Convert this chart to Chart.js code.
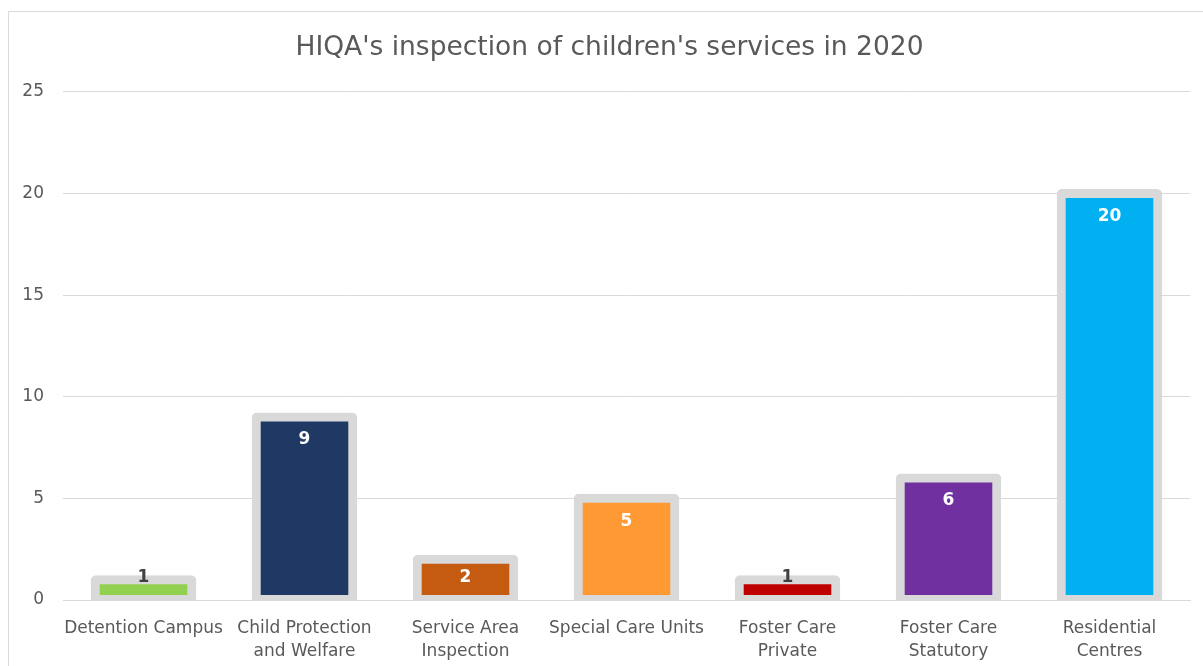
<!DOCTYPE html>
<html>
<head>
<meta charset="utf-8">
<script src="https://cdn.jsdelivr.net/npm/chart.js@4.4.0/dist/chart.umd.min.js"></script>
<style>
  html, body { margin: 0; padding: 0; background: #fff; }
  #frame { position: absolute; left: 8px; top: 11px; width: 1300px; height: 700px; border: 1px solid #d9d9d9; }
  #wrap { position: absolute; left: 0; top: 0; width: 1203px; height: 666px; }
</style>
</head>
<body>
<div id="frame"></div>
<div id="wrap"><canvas id="myChart"></canvas></div>
<script>
var categories = [
    "Detention Campus",
    ["Child Protection", "and Welfare"],
    ["Service Area", "Inspection"],
    "Special Care Units",
    ["Foster Care", "Private"],
    ["Foster Care", "Statutory"],
    ["Residential", "Centres"]
]
var counts = [1, 9, 2, 5, 1, 6, 20]
var barColors = ["#92d050", "#1f3864", "#c55a11", "#ff9933", "#c00000", "#7030a0", "#00b0f0"]
var yTicks = [0, 5, 10, 15, 20, 25]

var fontName = "DejaVu Sans"

// draws the number inside the top of each bar, like Excel's "inside end"
const valueLabels = {
    id: "valueLabels",
    afterDatasetsDraw(chart) {
        var ctx = chart.ctx
        var meta = chart.getDatasetMeta(0)
        var base = chart.scales.y.getPixelForValue(0)
        ctx.save()
        ctx.font = "bold 17px " + fontName
        ctx.textAlign = "center"
        ctx.textBaseline = "middle"
        meta.data.forEach(function (bar, i) {
            var y = Math.min(bar.y + 23, base - 22)
            ctx.fillStyle = (base - bar.y) < 25 ? "#404040" : "#ffffff"
            ctx.fillText(String(counts[i]), bar.x, y)
        })
        ctx.restore()
    }
}

var chartField = document.querySelector("#myChart").getContext("2d")

var myChart = new Chart(chartField, {
    type: "bar",
    data: {
        labels: categories,
        datasets: [{
            data: counts,
            yAxisID: "y",
            backgroundColor: barColors,
            borderColor: "#d9d9d9",
            borderWidth: 9,
            inflateAmount: 4.5,   // centres the border on the bar edge, like Excel
            borderSkipped: false,
            borderRadius: 5,
            barPercentage: 0.6,
            categoryPercentage: 1,
            clip: 0
        }]
    },
    plugins: [valueLabels],
    options: {
        responsive: true,
        maintainAspectRatio: false,
        animation: false,
        layout: { padding: { left: 18, right: 2, top: 32, bottom: 0 } },
        plugins: {
            legend: { display: false },
            tooltip: { enabled: false },
            title: {
                display: true,
                text: "HIQA's inspection of children's services in 2020",
                color: "#595959",
                font: { family: fontName, size: 26.5, weight: "normal" },
                padding: { top: 0, bottom: 28 }
            }
        },
        scales: {
            x: {
                grid: { display: false, drawTicks: false },
                border: { display: true, color: "#d9d9d9" },
                afterFit: function (scale) { scale.height = 66 },
                ticks: {
                    color: "#595959",
                    font: { family: fontName, size: 17, lineHeight: 1.35 },
                    maxRotation: 0,
                    autoSkip: false,
                    padding: 17
                }
            },
            y: {
                min: 0,
                max: 25,
                afterBuildTicks: function (scale) {
                    scale.ticks = yTicks.map(function (v) { return { value: v } })
                },
                afterFit: function (scale) { scale.width = 45 },
                grid: { color: "#d9d9d9", drawTicks: false },
                border: { display: false },
                ticks: {
                    color: "#595959",
                    font: { family: fontName, size: 17 },
                    padding: 19
                }
            },
            // empty right-hand spacer so the title sits centred like Excel's
            spacer: {
                type: "linear",
                position: "right",
                min: 0,
                max: 25,
                afterFit: function (scale) { scale.width = 11 },
                grid: { display: false, drawTicks: false },
                border: { display: false },
                ticks: { display: false }
            }
        }
    }
});
</script>
</body>
</html>
